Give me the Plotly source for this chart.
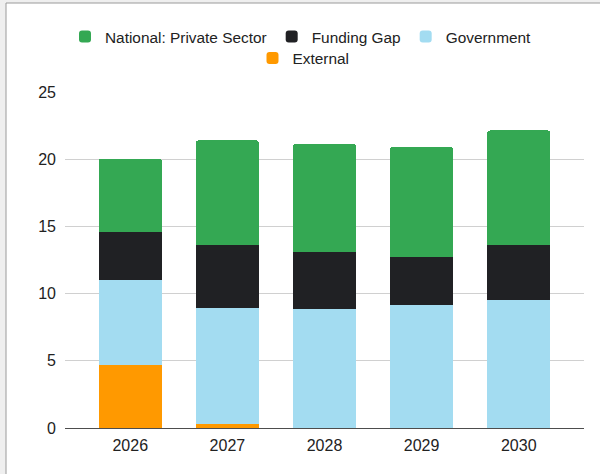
import plotly.graph_objects as go

# Funding sources by year (stacked, bottom to top)
years = ["2026", "2027", "2028", "2029", "2030"]
external = [4.67, 0.3, 0, 0, 0]
government = [6.33, 8.61, 8.84, 9.14, 9.51]
funding_gap = [3.55, 4.72, 4.22, 3.55, 4.09]
private_sector = [5.5, 7.77, 8.06, 8.23, 8.54]

y_ticks = [0, 5, 10, 15, 20, 25]

W, H = 600, 474
ML, MR, MT, MB = 65, 16, 92, 46
PW, PH = W - ML - MR, H - MT - MB


def px_x(p):
    return (p - ML) / PW


def px_y(p):
    return (H - MB - p) / PH


FONT = "Liberation Sans, Arial, sans-serif"
TXT = "#222222"

fig = go.Figure()
fig.add_trace(go.Bar(x=years, y=external, name="External",
                     marker_color="#ff9900", legend="legend2"))
fig.add_trace(go.Bar(x=years, y=government, name="Government",
                     marker_color="#a3dcf1", legend="legend"))
fig.add_trace(go.Bar(x=years, y=funding_gap, name="Funding Gap",
                     marker_color="#202124", legend="legend"))
fig.add_trace(go.Bar(x=years, y=private_sector, name="National: Private Sector",
                     marker_color="#34a853", legend="legend"))
fig.update_traces(marker_line_width=0)

# white card on a light gray page, with a gray rule on its left and top edges
card = dict(type="rect", xref="paper", yref="paper", layer="below",
            x0=px_x(6), x1=px_x(W + 10), y0=px_y(H + 10), y1=px_y(3),
            fillcolor="white", line=dict(color="#9a9a9a", width=1))

fig.update_layout(
    width=W, height=H,
    margin=dict(l=ML, r=MR, t=MT, b=MB, pad=0),
    paper_bgcolor="#efefef", plot_bgcolor="rgba(0,0,0,0)",
    barmode="stack", bargap=0.35, barcornerradius=3,
    font=dict(family=FONT, size=16, color=TXT),
    shapes=[card],
    legend=dict(orientation="h", x=px_x(65), xanchor="left",
                y=px_y(37), yanchor="middle", traceorder="reversed",
                bgcolor="rgba(0,0,0,0)", font=dict(size=15.4, color=TXT)),
    legend2=dict(orientation="h", x=px_x(252.5), xanchor="left",
                 y=px_y(58.5), yanchor="middle",
                 bgcolor="rgba(0,0,0,0)", font=dict(size=15.4, color=TXT)),
    xaxis=dict(type="category", range=[-0.672, 4.672], showgrid=False,
               showline=True, linecolor="#4d4d4d", linewidth=1,
               ticks="", ticklabelstandoff=3,
               tickfont=dict(size=16, color=TXT), zeroline=False),
    yaxis=dict(range=[0, 25], tickvals=y_ticks, showgrid=True,
               gridcolor="#d0d0d0", gridwidth=1, zeroline=False,
               showline=False, ticks="", ticklabelstandoff=8,
               tickfont=dict(size=16, color=TXT)),
)

fig.write_html("out.html")
